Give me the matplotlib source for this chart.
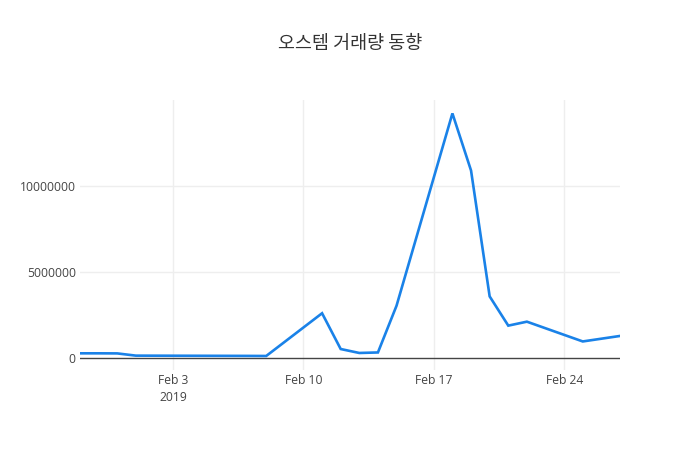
import pandas as pd
import matplotlib
matplotlib.use("Agg")
from matplotlib import pyplot as plt
from matplotlib.ticker import FuncFormatter

# 거래일 (2019)
dates = ["2019-01-29", "2019-01-30", "2019-01-31", "2019-02-01",
         "2019-02-07", "2019-02-08", "2019-02-11", "2019-02-12",
         "2019-02-13", "2019-02-14", "2019-02-15", "2019-02-18",
         "2019-02-19", "2019-02-20", "2019-02-21", "2019-02-22",
         "2019-02-25", "2019-02-26", "2019-02-27"]
volume = [270000, 270000, 265000, 135000,
          120000, 115000, 2600000, 520000,
          290000, 320000, 3040000, 14220000,
          10900000, 3580000, 1880000, 2110000,
          960000, 1120000, 1280000]

tick_dates = ["2019-02-03", "2019-02-10", "2019-02-17", "2019-02-24"]
tick_labels = ["Feb 3\n2019", "Feb 10", "Feb 17", "Feb 24"]
ytick_vals = [0, 5000000, 10000000]

title = "오스템 거래량 동향"

plt.rcParams['font.family'] = ['Open Sans', 'DejaVu Sans']

x = pd.to_datetime(dates)
W, H = 700, 450
fig = plt.figure(figsize=(7, 4.5), dpi=100)
ax = fig.add_axes([80 / W, 80 / H, 540 / W, 270 / H])

ax.plot(x, volume, color="#1a82e8", lw=1.9, solid_joinstyle="miter", zorder=3)

ax.set_xlim(x[0], x[-1])
ax.set_ylim(-700000, 15000000)

ax.set_xticks(pd.to_datetime(tick_dates))
ax.set_xticklabels(tick_labels, linespacing=1.35)
ax.set_yticks(ytick_vals)
ax.yaxis.set_major_formatter(FuncFormatter(lambda v, p: "%d" % v))

for t in pd.to_datetime(tick_dates):
    ax.axvline(t, color="#eeeeee", lw=1, zorder=1)
for v in ytick_vals[1:]:
    ax.axhline(v, color="#eeeeee", lw=1, zorder=1)
ax.axhline(0, color="#444444", lw=1, zorder=2)

for s in ax.spines.values():
    s.set_visible(False)
ax.tick_params(length=0, labelsize=8.7, colors="#444444")
ax.tick_params(axis="x", pad=3)
ax.tick_params(axis="y", pad=3)

fig.text(0.5, 1 - 44 / H, title, ha="center", va="center", fontsize=13.3,
         color="#333333", family=['Noto Sans CJK KR', 'DejaVu Sans'])

fig.savefig("out.png", dpi=100)
